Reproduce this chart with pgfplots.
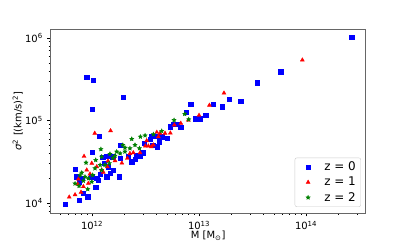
\documentclass[border=0pt]{standalone}
\usepackage{fontspec}
\setmainfont{DejaVu Sans}
\usepackage{pgfplots}
\pgfplotsset{compat=1.18}
\definecolor{mplblue}{rgb}{0,0,1}
\definecolor{mplred}{rgb}{1,0,0}
\definecolor{mplgreen}{rgb}{0,0.5,0}
\pgfdeclareplotmark{fstar}{%
  \pgfpathmoveto{\pgfpointpolar{90}{\pgfplotmarksize}}%
  \pgfpathlineto{\pgfpointpolar{126}{0.45\pgfplotmarksize}}%
  \pgfpathlineto{\pgfpointpolar{162}{\pgfplotmarksize}}%
  \pgfpathlineto{\pgfpointpolar{198}{0.45\pgfplotmarksize}}%
  \pgfpathlineto{\pgfpointpolar{234}{\pgfplotmarksize}}%
  \pgfpathlineto{\pgfpointpolar{270}{0.45\pgfplotmarksize}}%
  \pgfpathlineto{\pgfpointpolar{306}{\pgfplotmarksize}}%
  \pgfpathlineto{\pgfpointpolar{342}{0.45\pgfplotmarksize}}%
  \pgfpathlineto{\pgfpointpolar{18}{\pgfplotmarksize}}%
  \pgfpathlineto{\pgfpointpolar{54}{0.45\pgfplotmarksize}}%
  \pgfpathclose\pgfusepathqfillstroke}
\begin{document}
\begin{tikzpicture}
\path[use as bounding box] (-50.7bp,-31bp) rectangle (356.3bp,213bp);
\begin{axis}[
  at={(0,0)}, anchor=south west,
  scale only axis, width=315bp, height=184bp,
  xmode=log, ymode=log,
  xmin=4.11e11, xmax=3.61e14,
  ymin=7.57e3, ymax=1.285e6,
  axis line style={black!60, line width=0.8bp},
  tick align=outside, tick pos=left,
  major tick length=3.5bp, minor tick length=2bp,
  every tick/.style={black, line width=0.6bp},
  xtick={1e12,1e13,1e14},
  xticklabels={10\textsuperscript{12},10\textsuperscript{13},10\textsuperscript{14}},
  ytick={1e4,1e5,1e6},
  yticklabels={10\textsuperscript{4},10\textsuperscript{5},10\textsuperscript{6}},
  minor xtick={5e11,6e11,7e11,8e11,9e11,2e12,3e12,4e12,5e12,6e12,7e12,8e12,9e12,2e13,3e13,4e13,5e13,6e13,7e13,8e13,9e13,2e14,3e14},
  minor ytick={8e3,9e3,2e4,3e4,4e4,5e4,6e4,7e4,8e4,9e4,2e5,3e5,4e5,5e5,6e5,7e5,8e5,9e5},
  ticklabel style={font=\fontsize{10}{12}\selectfont},
  xticklabel style={yshift=-3.5bp, inner ysep=1bp},
  yticklabel style={xshift=-1bp},
  xlabel={M [M\textsubscript{⊙}]},
  ylabel={\textit{σ}\textsuperscript{2} [(km/s)\textsuperscript{2}]},
  label style={font=\fontsize{10}{12}\selectfont},
  xlabel style={at={(axis description cs:0.5,-0.124)}, anchor=center, inner ysep=1bp},
  ylabel style={at={(axis description cs:-0.105,0.5)}, anchor=center},
  legend style={at={(0.985,0.033)}, anchor=south east, draw=black!20, fill=white,
    rounded corners=2bp, font=\fontsize{12}{14}\selectfont, row sep=1bp,
    inner xsep=3bp, inner ysep=2bp},
  legend cell align=left,
  legend image code/.code={\path (0bp,0bp) (24bp,0bp); \draw[mark repeat=2,mark phase=2,#1] plot coordinates {(0bp,0bp) (10bp,0bp) (20bp,0bp)};},
]
\addplot[only marks, mark=square*, mark size=2.1bp, color=mplblue] coordinates {
(2.67e14,1.02e6) (5.80e13,3.90e5) (3.48e13,2.87e5) (2.45e13,1.71e5) (1.92e13,1.81e5)
(1.64e13,1.47e5) (1.36e13,1.57e5) (1.155e13,1.156e5) (1.015e13,1.05e5) (9.18e12,1.05e5)
(8.36e12,1.585e5) (7.61e12,1.25e5) (6.75e12,8.27e4) (6.27e12,9.07e4) (5.80e12,9.07e4)
(5.36e12,8.41e4) (5.06e12,6.08e4) (4.54e12,6.36e4) (4.26e12,5.53e4) (4.07e12,4.81e4)
(3.69e12,5.05e4) (3.61e12,6.49e4) (4.03e12,6.42e4) (3.48e12,5.92e4) (3.08e12,5.29e4)
(2.98e12,4.07e4) (2.81e12,3.71e4) (2.58e12,3.82e4) (2.52e12,3.39e4) (2.35e12,3.17e4)
(1.83e12,3.48e4) (1.56e12,3.64e4) (1.37e12,3.71e4) (1.26e12,3.58e4) (1.29e12,3.03e4)
(1.42e12,2.75e4) (1.58e12,2.51e4) (1.47e12,2.29e4) (1.37e12,2.08e4) (1.80e12,2.08e4)
(1.83e12,4.98e4) (1.17e12,6.49e4) (1.006e12,4.15e4) (8.92e11,3.34e5) (1.03e12,3.07e5)
(1.94e12,1.93e5) (1.0e12,1.37e5) (6.94e11,2.57e4) (5.60e11,9.59e3) (7.56e11,1.07e4)
(8.3e11,1.31e4) (9.12e11,1.19e4) (7.56e11,1.81e4) (8.01e11,1.99e4) (7.09e11,2.08e4)
(1.106e12,1.99e4) (1.083e12,1.55e4) (1.145e12,1.90e4) (1.196e12,2.25e4) (9.94e11,2.08e4)
(2.17e12,3.67e4)
};
\addlegendentry{z = 0}
\addplot[only marks, mark=triangle*, mark size=2.3bp, color=mplred] coordinates {
(9.23e13,5.41e5) (1.71e13,2.15e5) (1.25e13,1.53e5) (1.0e13,1.156e5) (7.94e12,1.01e5)
(6.75e12,9.25e4) (5.88e12,8.82e4) (5.39e12,7.05e4) (4.81e12,7.0e4) (4.32e12,7.0e4)
(4.03e12,7.19e4) (4.17e12,6.36e4) (3.58e12,4.81e4) (3.74e12,5.05e4) (3.36e12,4.91e4)
(3.15e12,4.91e4) (3.24e12,5.69e4) (2.81e12,4.07e4) (2.43e12,4.07e4) (2.26e12,3.99e4)
(2.14e12,3.48e4) (1.90e12,3.05e4) (1.64e12,3.26e4) (1.41e12,3.23e4) (1.39e12,2.75e4)
(1.275e12,2.36e4) (1.49e12,7.52e4) (1.06e12,7.0e4) (8.42e11,3.68e4) (6.12e11,1.18e4)
(6.94e11,1.26e4) (7.89e11,1.35e4) (7.45e11,1.95e4) (7.35e11,1.70e4) (8.3e11,1.58e4)
(9.24e11,1.73e4) (8.92e11,2.51e4) (9.57e11,2.25e4) (1.106e12,2.75e4) (1.23e12,2.51e4)
(9.94e11,3.03e4)
};
\addlegendentry{z = 1}
\addplot[only marks, mark=fstar, mark size=2.2bp, color=mplgreen] coordinates {
(7.35e12,1.2e5) (5.84e12,1.01e5) (8.01e12,1.03e5) (4.48e12,7.46e4) (3.74e12,6.8e4)
(3.13e12,6.58e4) (2.83e12,6.36e4) (2.35e12,5.97e4) (2.03e12,4.68e4) (1.94e12,5.05e4)
(1.21e12,4.49e4) (1.70e12,4.19e4) (1.83e12,3.99e4) (1.64e12,3.74e4) (1.47e12,3.93e4)
(2.03e12,4.19e4) (2.26e12,4.6e4) (2.52e12,5.05e4) (2.77e12,4.6e4) (1.32e12,2.89e4)
(1.23e12,2.51e4) (1.45e12,3.03e4) (8.79e11,3.08e4) (1.083e12,3.32e4) (1.23e12,3.64e4)
(6.94e11,1.72e4) (8.3e11,1.86e4) (9.12e11,1.47e4) (1.015e12,2.18e4) (9.24e11,1.99e4)
(8.6e11,2.08e4) (9.94e11,1.81e4) (1.066e12,2.63e4) (1.19e12,2.89e4) (8.01e11,2.33e4)
(7.72e11,2.17e4) (7.56e11,1.61e4) (1.57e12,3.51e4)
};
\addlegendentry{z = 2}
\end{axis}
\end{tikzpicture}
\end{document}
